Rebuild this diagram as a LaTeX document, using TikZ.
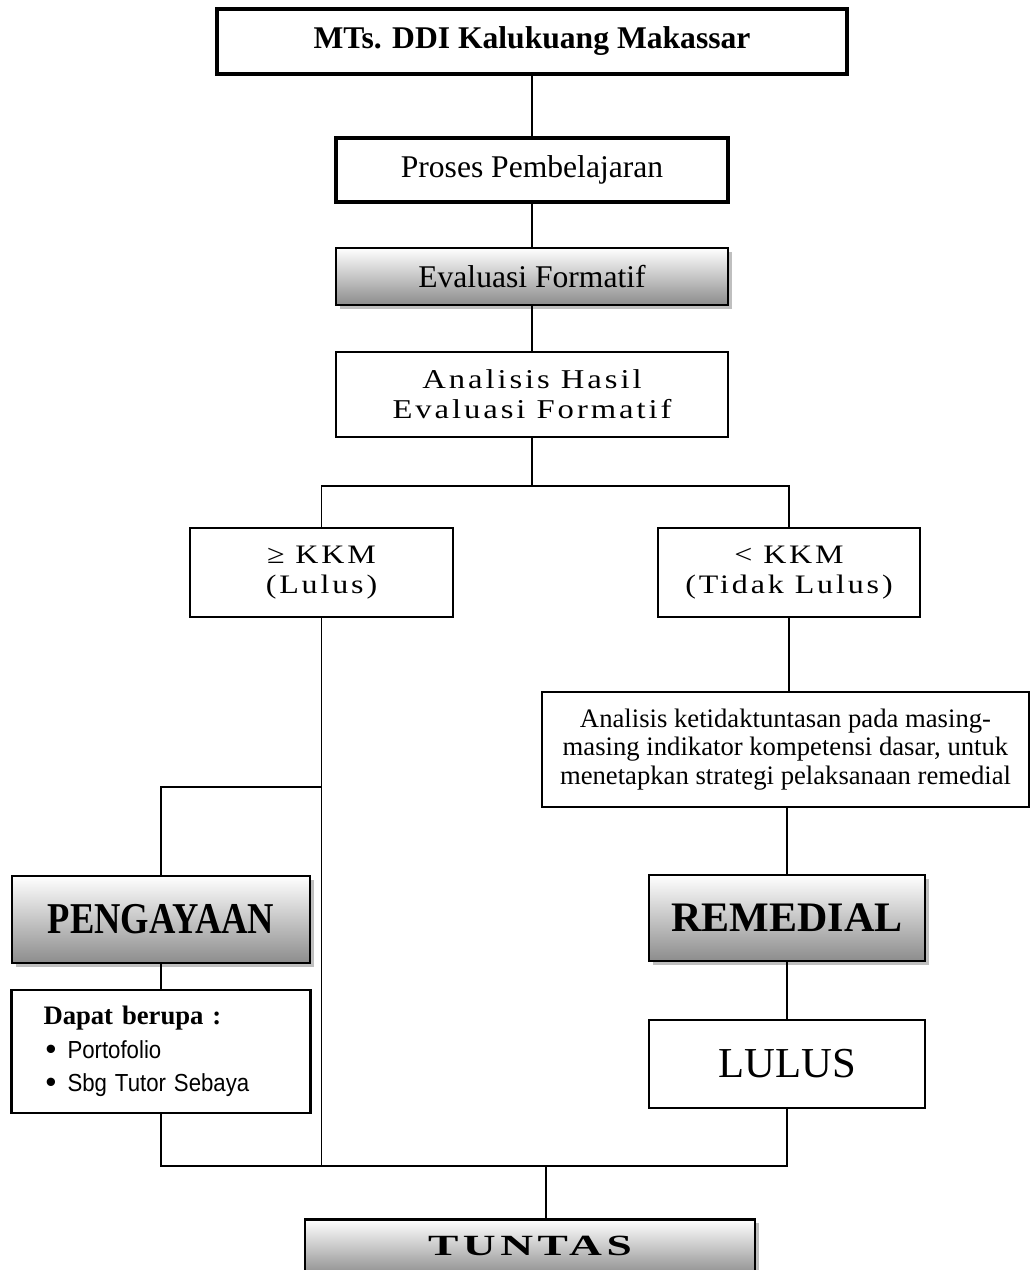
\documentclass[tikz,border=0pt]{standalone}
\usepackage{fontspec}
\usepackage{graphicx}
\setmainfont{Liberation Serif}
\newfontfamily\sansf{Liberation Sans}
\newfontfamily\spacedA[LetterSpace=9]{Liberation Serif}
\newfontfamily\spacedT[LetterSpace=10]{Liberation Serif}
\usetikzlibrary{shadows,calc}
\def\u{0.75pt}
\newcommand\wide[1]{\scalebox{1.2}[1]{#1}}
\newcommand\bul{\hspace*{1.5pt}\makebox[16.5pt][l]{\raisebox{-0.6pt}{\fontsize{23}{23}\selectfont •}}}
\newcommand\narrowtxt[1]{\scalebox{0.9}[1]{#1}}
\begin{document}
\begin{tikzpicture}[x=0.75pt,y=-0.75pt,
  box/.style={draw, rectangle, inner sep=0pt, align=center, line width=#1},
  box/.default=1.6pt,
  shade3d/.style={top color=white, bottom color=black!45,
    drop shadow={shadow xshift=3pt, shadow yshift=-3pt, fill=black!25, opacity=1}},
  conn/.style={line width=1.2pt}]
\clip (0,0) rectangle (1031,1270);
\fill[white] (0,0) rectangle (1031,1270);

% top column
\node[box=3pt, minimum width=630*\u, minimum height=65*\u,
  font=\fontsize{23.7}{26}\selectfont\bfseries] (mts) at (532,41.5) {MTs. DDI Kalukuang Makassar};
\node[box=2.6pt, minimum width=392*\u, minimum height=64*\u,
  font=\fontsize{23.7}{26}\selectfont] (pro) at (532,170) {Proses Pembelajaran};
\node[box=2.2pt, shade3d, minimum width=392*\u, minimum height=57*\u,
  font=\fontsize{23.7}{26}\selectfont] (eva) at (532,276.5) {Evaluasi Formatif};
\node[box=2pt, minimum width=392*\u, minimum height=85*\u,
  font=\spacedA\fontsize{20.4}{22.5}\selectfont] (ana) at (532,394.5) {\wide{Analisis Hasil}\\\wide{Evaluasi Formatif}};

% decision boxes
\node[box=1.6pt, minimum width=263*\u, minimum height=89*\u,
  font=\spacedA\fontsize{20}{22.5}\selectfont] (lk) at (321.5,572.5) {\wide{≥ KKM}\\\wide{(Lulus)}};
\node[box=1.6pt, minimum width=262*\u, minimum height=89*\u,
  font=\spacedA\fontsize{20}{22.5}\selectfont] (tk) at (789,572.5) {\wide{< KKM}\\\wide{(Tidak Lulus)}};

% right branch
\node[box=1.6pt, minimum width=487*\u, minimum height=115*\u,
  font=\fontsize{20}{21.25}\selectfont] (ak) at (785.5,749.5)
  {Analisis ketidaktuntasan pada masing-\\masing indikator kompetensi dasar, untuk\\menetapkan strategi pelaksanaan remedial};
\node[box=2.2pt, shade3d, minimum width=276*\u, minimum height=86*\u,
  font=\fontsize{31.5}{34}\selectfont\bfseries] (rem) at (787,918) {REMEDIAL};
\node[box=1.8pt, minimum width=276*\u, minimum height=88*\u,
  font=\fontsize{32}{34}\selectfont] (lul) at (787,1064) {LULUS};

% left branch
\node[box=2.2pt, shade3d, minimum width=298*\u, minimum height=87*\u,
  font=\fontsize{33}{36}\selectfont\bfseries] (peng) at (161,919.5) {\scalebox{0.83}[1]{PENGAYAAN}};
\node[box=2.2pt, minimum width=299*\u, minimum height=123*\u, align=left, text width=235*\u,
  font=\fontsize{20}{25}\selectfont] (dap) at (161,1051.5)
  {{\bfseries Dapat berupa :}\\
   {\sansf\fontsize{18.5}{25}\selectfont\bul\narrowtxt{Portofolio}}\\
   {\sansf\fontsize{18.5}{25}\selectfont\bul\narrowtxt{Sbg Tutor Sebaya}}};

% final box
\node[box=2.2pt, shade3d, anchor=north, minimum width=450*\u, inner ysep=12pt,
  text height=15pt, text depth=3.75pt,
  font=\fontsize{22}{24}\selectfont\bfseries] (tun) at (530,1218) {\scalebox{1.55}[1]{\spacedT TUNTAS}};

% connectors
\coordinate (tb) at (532,486);
\coordinate (br) at (322,787);
\coordinate (bb) at (546,1166);
\draw[conn] (mts.south) -- (pro.north);
\draw[conn] (pro.south) -- (eva.north);
\draw[conn] (eva.south) -- (ana.north);
\draw[conn] (ana.south) -- (tb);
\draw[conn] (lk.north) |- (tb) -| (tk.north);
\draw[conn] (lk.south) -- (lk.south |- bb);
\draw[conn] (lk.south |- br) -| (peng.north);
\draw[conn] (peng.south) -- (dap.north);
\draw[conn] (tk.south) -- (tk.south |- ak.north);
\draw[conn] (rem.north |- ak.south) -- (rem.north);
\draw[conn] (rem.south) -- (lul.north);
\draw[conn] (dap.south) |- (bb) -| (lul.south);
\draw[conn] (bb) -- (bb |- tun.north);
\end{tikzpicture}
\end{document}
